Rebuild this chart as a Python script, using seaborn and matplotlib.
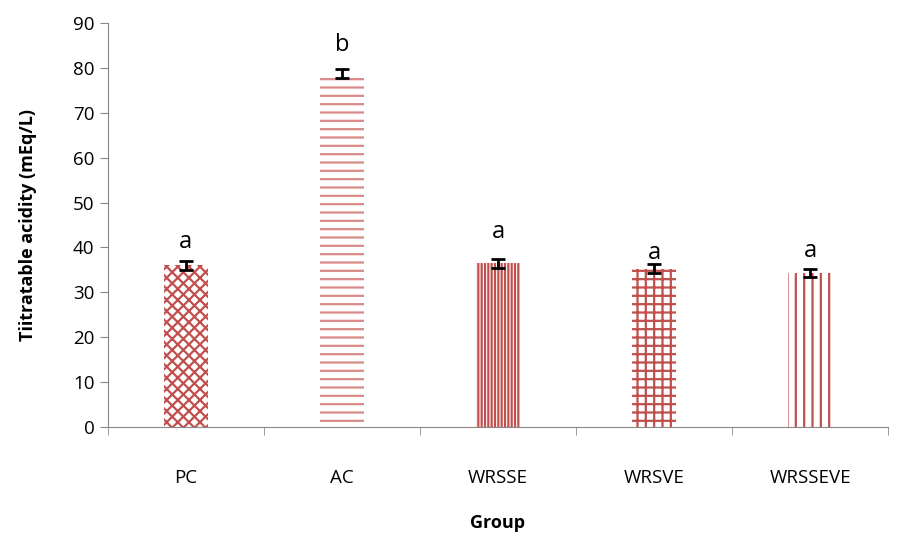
import matplotlib
matplotlib.use('Agg')
import matplotlib.pyplot as plt
import seaborn as sns
import pandas as pd

groups = ['PC', 'AC', 'WRSSE', 'WRSVE', 'WRSSEVE']
acidity = [36.0, 78.8, 36.5, 35.2, 34.4]
errors = [1.0, 1.0, 1.0, 1.0, 0.9]
letters = ['a', 'b', 'a', 'a', 'a']
letter_y = [41.2, 85.0, 43.5, 38.8, 39.2]
hatches = ['xxx', '--', '|||||', '++', '||']

sns.set_style('white')
plt.rcParams['font.family'] = ['Open Sans', 'DejaVu Sans']
plt.rcParams['hatch.linewidth'] = 1.6
plt.rcParams['text.color'] = 'black'
plt.rcParams['axes.labelcolor'] = 'black'
plt.rcParams['xtick.color'] = 'black'
plt.rcParams['ytick.color'] = 'black'

df = pd.DataFrame({'Group': groups, 'Acidity': acidity})

fig = plt.figure(figsize=(8.98, 5.35), dpi=100)
ax = fig.add_axes([0.120, 0.202, 0.869, 0.755])
sns.barplot(data=df, x='Group', y='Acidity', color='white', width=0.28,
            errorbar=None, ax=ax)
red = '#C0504D'
hatch_colors = [red, '#D88A88', red, red, red]
for p, h, c in zip(ax.patches, hatches, hatch_colors):
    p.set_facecolor('white')
    p.set_hatch(h)
    p.set_edgecolor(c)
    p.set_linewidth(0)

ax.errorbar(range(len(groups)), acidity, yerr=errors, fmt='none',
            ecolor='black', elinewidth=2, capsize=5, capthick=2)
for i, (t, y) in enumerate(zip(letters, letter_y)):
    ax.text(i, y, t, ha='center', va='center', fontsize=17)

ax.set_xlim(-0.5, 4.5)
ax.set_ylim(0, 90)
ax.set_yticks(range(0, 91, 10))
ax.set_xticks([-0.5, 0.5, 1.5, 2.5, 3.5, 4.5], minor=True)
ax.tick_params(axis='x', which='major', length=0, pad=30, labelsize=13.5)
ax.tick_params(axis='x', which='minor', length=6, direction='out', color='#888888')
ax.tick_params(axis='y', length=6, direction='out', color='#888888',
               labelcolor='black', labelsize=13.5)
ax.xaxis.set_ticks_position('bottom')
ax.yaxis.set_ticks_position('left')
for s in ['top', 'right']:
    ax.spines[s].set_visible(False)
for s in ['left', 'bottom']:
    ax.spines[s].set_color('#888888')
ax.set_xlabel('Group', fontsize=13, fontweight='bold', labelpad=20)
ax.set_ylabel('Tiitratable acidity (mEq/L)', fontsize=13, fontweight='bold', labelpad=26)

fig.savefig('out.png', dpi=100)
